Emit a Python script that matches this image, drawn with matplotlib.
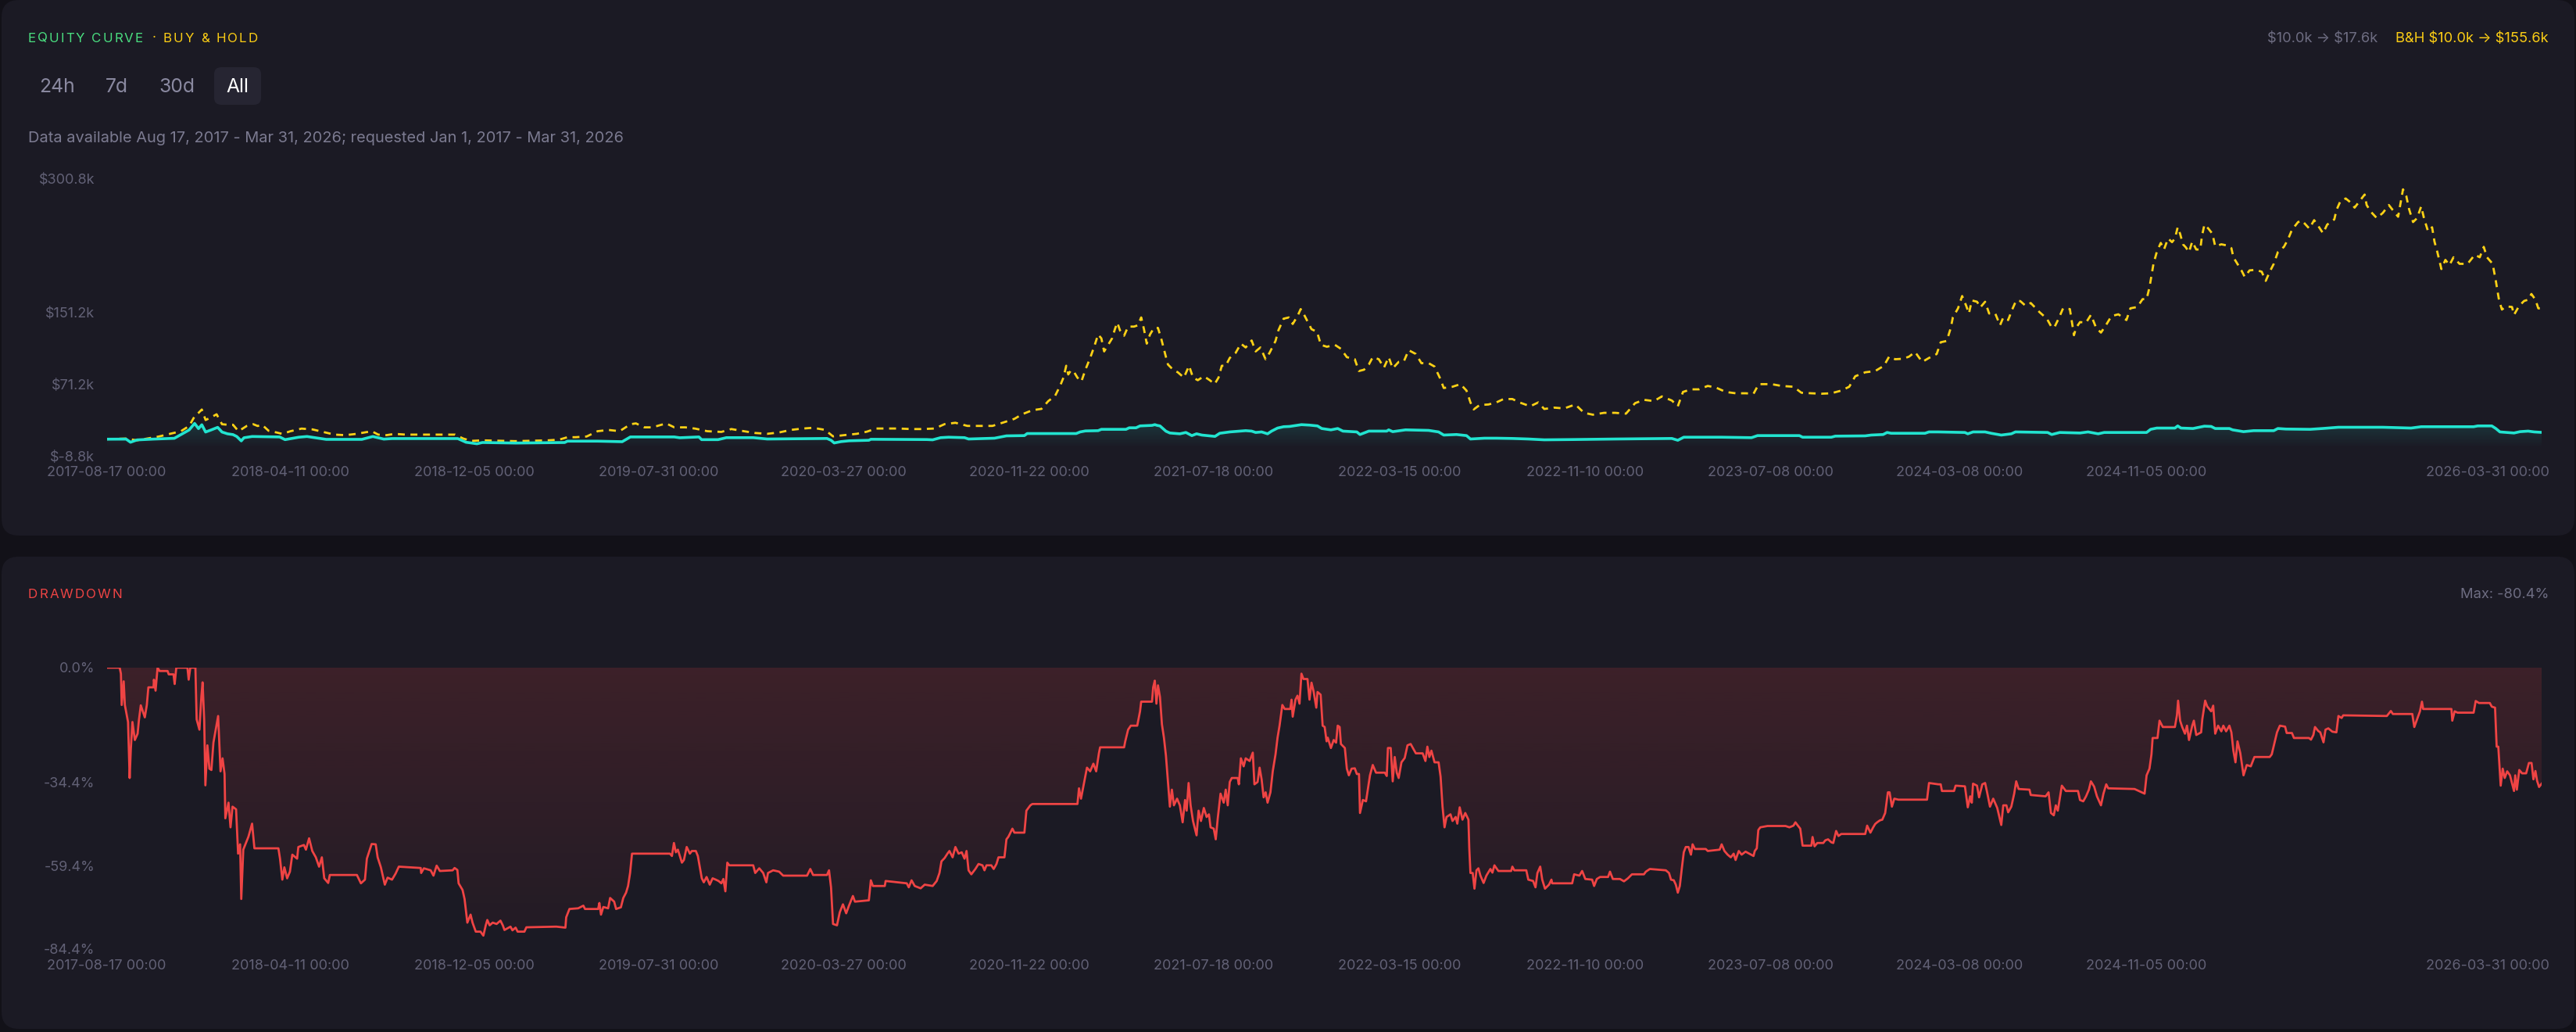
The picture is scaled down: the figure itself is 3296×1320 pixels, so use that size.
import numpy as np
import matplotlib
matplotlib.use('Agg')
import matplotlib.pyplot as plt
import matplotlib.dates as mdates
import matplotlib.colors as mcolors
from matplotlib.patches import FancyBboxPatch, PathPatch
from matplotlib.transforms import ScaledTranslation

# Colours
PAGE = '#121118'
CARD = '#1b1a24'
CYAN = '#22e4d0'
GOLD = '#fcd116'
RED = '#ef4444'
GREEN = '#4ade80'
MUTED = '#626176'
FONT = ['Inter', 'DejaVu Sans']

start_date = '2017-08-17'

# Data: (days since 2017-08-17, value)
# strategy equity in $k
equity_pts = [
    (0, 10.0), (25, 10.1), (30.7, 6.6), (39.2, 9.2), (60.4, 10.1), (87.4, 11.0), (95.9, 15.1),
    (106.5, 20.3), (113.6, 27.6), (118.6, 21.8), (122.9, 26.1), (127.8, 18.0), (134.9, 20.3),
    (143.4, 23.2), (149, 18.0), (156.1, 16.0), (163.2, 15.1), (168.1, 13.0), (173.9, 8.1),
    (177.4, 11.6), (188, 13.0), (223.5, 12.5), (230.5, 9.5), (248.2, 12.2), (258.9, 13.0),
    (269.6, 11.6), (283.7, 9.8), (329.8, 9.8), (344, 13.0), (358.2, 10.1), (368.8, 10.7),
    (453.8, 10.7), (464.4, 6.6), (478.6, 4.9), (485.7, 6.3), (528.3, 5.7), (592, 6.3),
    (595.5, 7.8), (634.6, 7.8), (666.4, 7.2), (677, 12.5), (733.7, 12.5), (740.9, 11.6),
    (765.6, 12.5), (769.1, 9.5), (790.3, 9.5), (801, 11.7), (835.8, 11.7), (853.9, 10.2),
    (931.2, 10.8), (936.4, 8.8), (940.5, 5.8), (949.2, 7.3), (959.6, 8.2), (985.3, 8.8),
    (987.9, 9.9), (1060.1, 9.6), (1067.8, 9.3), (1078.1, 11.7), (1088.4, 12.2), (1109, 11.7),
    (1114.2, 10.2), (1147.7, 11.1), (1163.2, 13.7), (1186.4, 14.0), (1190, 16.3), (1253.4, 16.3),
    (1258.5, 18.1), (1265.3, 19.2), (1281.7, 19.5), (1285.9, 21.0), (1317.8, 21.0), (1321.9, 22.7),
    (1330.7, 22.7), (1335.9, 24.8), (1351.4, 25.4), (1355, 26.2), (1358, 25.4), (1361.7, 24.8),
    (1369.4, 18.9), (1374.5, 16.9), (1387.4, 16.0), (1395.2, 17.5), (1402.9, 14.0), (1409, 16.0),
    (1415.8, 14.6), (1432.8, 13.1), (1439, 16.6), (1451.9, 18.1), (1464.8, 19.0), (1472.5, 19.5),
    (1480.2, 19.0), (1485.4, 17.5), (1493.1, 18.1), (1500.8, 16.0), (1506, 19.0), (1513.7, 22.4),
    (1521.5, 23.9), (1529.2, 24.2), (1544.6, 26.2), (1555, 25.7), (1565.3, 24.8), (1570.8, 21.9),
    (1582.7, 20.4), (1591.5, 21.9), (1598.2, 19.0), (1616.2, 18.1), (1620.3, 15.2), (1631.7, 19.0),
    (1654.9, 19.0), (1657.4, 20.4), (1662.6, 18.4), (1679.1, 20.4), (1709, 19.8), (1721.9, 18.1),
    (1728.6, 14.6), (1745.1, 15.2), (1758, 14.0), (1763.1, 10.2), (1781.2, 11.1), (1796.6, 11.1),
    (1817.3, 10.8), (1837.9, 10.2), (1858.5, 9.3), (1894.6, 9.6), (1951.3, 10.2), (2023.5, 10.8),
    (2031.2, 8.8), (2038.9, 12.2), (2087.9, 12.2), (2126.5, 11.7), (2134.3, 14.0), (2188.4, 14.0),
    (2192.5, 12.2), (2229.7, 12.2), (2234.8, 13.4), (2273.5, 13.7), (2281.2, 14.6), (2296.6, 15.2),
    (2301.8, 17.5), (2307, 16.6), (2350.8, 16.6), (2355.9, 18.1), (2367.8, 18.1), (2402.4, 17.5),
    (2406.1, 16.0), (2412.9, 18.1), (2428.5, 18.1), (2436.3, 16.6), (2449.4, 14.6), (2462.4, 16.0),
    (2467.7, 18.1), (2509.4, 17.5), (2514.6, 15.2), (2525.1, 17.5), (2551.2, 16.9), (2561.6, 18.1),
    (2574.7, 16.0), (2582.5, 17.5), (2637.3, 17.5), (2642.5, 21.0), (2650.4, 22.4), (2673.9, 22.4),
    (2677.5, 24.8), (2681.7, 22.4), (2697.3, 21.9), (2712, 24.5), (2720.8, 24.2), (2726, 21.9),
    (2744.3, 21.9), (2748.5, 20.4), (2762.6, 18.4), (2775.6, 19.5), (2801.7, 19.5), (2807, 21.9),
    (2817.4, 21.3), (2848.7, 21.0), (2864.4, 21.9), (2885.3, 23.3), (2942.7, 23.3), (2979.2, 22.4),
    (2987, 23.3), (2992.3, 23.9), (3060.1, 23.9), (3065.4, 24.8), (3083.6, 24.8), (3088.8, 21.9),
    (3094.1, 18.1), (3112.3, 16.9), (3120.2, 18.4), (3130.6, 19.0), (3138.4, 18.1), (3148, 17.6),
]

# buy & hold equity in $k
bh_pts = [
    (0, 10.0), (25, 10.7), (39, 8.7), (67.5, 13.0), (81.6, 15.9), (95.9, 18.9), (106.5, 24.7),
    (113.6, 35.5), (118.6, 39.3), (122.9, 43.1), (127.8, 31.4), (134.9, 34.3), (142, 37.8),
    (149, 26.7), (156.1, 26.1), (163.2, 26.1), (170.3, 18.9), (173.9, 20.9), (180.9, 24.7),
    (189.4, 26.7), (195.1, 24.7), (200.7, 26.1), (209.2, 19.4), (219.9, 17.4), (226.9, 15.9),
    (237.6, 18.9), (251.8, 21.8), (266, 20.9), (280.1, 18.0), (294.3, 15.1), (308.5, 14.5),
    (322.7, 15.9), (342.5, 18.9), (351, 15.1), (361.6, 14.5), (372.2, 15.9), (386.4, 15.1),
    (450.2, 15.1), (460.9, 10.7), (471.5, 8.1), (485.7, 8.7), (514.1, 8.1), (528.3, 7.8),
    (542.5, 8.1), (570.8, 8.7), (585, 9.5), (595.6, 12.2), (606.2, 12.2), (620.4, 13.0),
    (634.6, 18.9), (648.8, 20.3), (663, 18.9), (677.2, 26.7), (684.2, 27.6), (694.9, 23.2),
    (705.5, 23.2), (723.2, 27.6), (733.8, 23.2), (748, 23.2), (760.8, 21.8), (776.4, 18.9),
    (794.6, 18.1), (807.5, 21.3), (823, 19.0), (838.4, 16.9), (853.9, 16.0), (869.3, 17.5),
    (884.8, 20.4), (900.3, 21.9), (913.2, 22.7), (928.6, 20.4), (939, 13.1), (954.4, 14.6),
    (969.9, 16.0), (982.8, 18.4), (994.6, 21.9), (1024, 21.9), (1039.5, 21.3), (1054.9, 21.3),
    (1070.4, 21.9), (1083.3, 26.8), (1097.2, 28.3), (1112.7, 24.8), (1145.1, 24.8), (1159.1, 28.6),
    (1173.5, 32.7), (1183.8, 37.9), (1196.7, 42.3), (1208.5, 43.8), (1217.3, 52.5), (1226.1, 58.3),
    (1232.8, 70.0), (1236.9, 78.7), (1240.5, 91.9), (1243.1, 82.2), (1246.7, 86.9), (1250.8, 84.6),
    (1254.9, 78.7), (1260.1, 74.4), (1265.3, 87.5), (1271.4, 100.6), (1276.6, 113.1), (1281.7, 126.8),
    (1285.9, 122.5), (1289.5, 107.9), (1294.6, 115.2), (1299.8, 122.5), (1303.4, 132.7), (1306.5, 140.0),
    (1310.1, 131.2), (1315.3, 125.4), (1320.5, 135.6), (1328.2, 135.6), (1333.3, 137.1), (1337.4, 145.8),
    (1341, 132.7), (1344.6, 116.6), (1348.8, 126.8), (1353.9, 134.1), (1359.1, 134.1), (1363.2, 122.5),
    (1368.4, 105.0), (1372, 93.3), (1378.6, 87.5), (1384.8, 84.6), (1392.6, 78.7), (1399.3, 91.9),
    (1404.4, 78.7), (1410.6, 75.8), (1418.4, 80.2), (1426.1, 75.8), (1432.3, 71.4), (1437.4, 78.7),
    (1441.6, 91.9), (1446.7, 91.9), (1451.9, 100.6), (1459.6, 106.4), (1466.3, 116.6), (1472.5, 112.3),
    (1480.2, 120.1), (1485.4, 107.9), (1491.6, 112.3), (1498.2, 99.2), (1503.4, 106.4), (1511.1, 119.6),
    (1514.7, 131.2), (1521.5, 144.4), (1528.2, 145.8), (1533.3, 138.5), (1539.5, 147.3), (1543.6, 155.1),
    (1547.2, 150.2), (1552.4, 141.4), (1557.6, 132.7), (1564.7, 129.8), (1569.8, 115.2), (1577.5, 113.1),
    (1587.9, 115.2), (1595.6, 110.8), (1603.3, 101.5), (1613.6, 99.2), (1618.8, 86.0), (1625.5, 87.5),
    (1631.7, 93.3), (1636.8, 101.5), (1644.6, 99.2), (1651.3, 89.8), (1657.4, 101.5), (1662.6, 89.0),
    (1670.3, 96.2), (1677, 96.8), (1683.2, 109.3), (1692.5, 105.0), (1699.7, 94.8), (1709, 94.8),
    (1716.7, 91.0), (1723.4, 78.7), (1728.6, 67.1), (1739.9, 68.5), (1750.2, 71.4), (1758, 64.2),
    (1763.1, 51.0), (1767.3, 43.2), (1775, 48.1), (1786.3, 48.7), (1796.6, 51.0), (1805.9, 54.8),
    (1817.3, 54.8), (1826.5, 51.0), (1840.4, 46.7), (1850.8, 51.0), (1858.5, 43.7), (1871.4, 45.2),
    (1884.3, 44.3), (1898.7, 48.7), (1910, 39.4), (1921.4, 37.3), (1935.8, 39.4), (1950.2, 39.4),
    (1964.2, 38.5), (1976, 50.2), (1987.4, 53.9), (2000.4, 52.5), (2010.6, 57.7), (2023.5, 53.1),
    (2031.2, 46.7), (2037.9, 62.7), (2048.2, 65.6), (2058.5, 65.6), (2069.9, 69.4), (2080.2, 67.7),
    (2093.1, 62.7), (2105.9, 61.2), (2118.8, 61.2), (2129.1, 60.7), (2135.8, 71.4), (2152.3, 71.4),
    (2165.2, 69.4), (2180.7, 68.5), (2191, 61.8), (2203.9, 61.2), (2216.8, 60.7), (2229.7, 61.2),
    (2242.5, 64.2), (2252.8, 68.5), (2260.6, 80.2), (2273.5, 84.6), (2286.4, 86.0), (2297.7, 91.9),
    (2304.4, 102.1), (2312.2, 99.2), (2322.5, 99.7), (2330.2, 102.1), (2337.9, 107.3), (2347.2, 96.2),
    (2355.9, 100.6), (2365.9, 105.0), (2371.1, 118.1), (2378.9, 119.6), (2384.1, 134.1), (2386.8, 145.8),
    (2393.5, 156.0), (2398.8, 169.7), (2404, 158.9), (2407.6, 150.2), (2411.3, 164.8), (2418.1, 163.3),
    (2422.2, 156.9), (2428.5, 163.3), (2433.7, 150.2), (2441.6, 150.2), (2447.8, 137.1), (2452, 145.8),
    (2458.3, 142.9), (2463.5, 154.6), (2468.7, 164.8), (2474, 164.0), (2480.7, 158.9), (2487.5, 161.9),
    (2499, 151.6), (2508.4, 144.4), (2514.6, 134.7), (2518, 134.7), (2523.5, 144.4), (2529.3, 156.0),
    (2538.1, 155.1), (2543.4, 126.0), (2546, 134.1), (2551.2, 140.6), (2559, 140.0), (2565.3, 148.7),
    (2572.1, 134.1), (2578.3, 128.9), (2585.1, 137.7), (2591.9, 147.3), (2600.8, 149.3), (2611.2, 142.9),
    (2616.4, 156.0), (2625.3, 157.5), (2632.1, 166.2), (2637.3, 166.2), (2641, 179.3), (2643.6, 192.5),
    (2646.2, 205.6), (2650.4, 218.7), (2655.6, 228.9), (2659.8, 221.6), (2665, 233.9), (2670.2, 229.8),
    (2673.9, 233.9), (2677.5, 246.4), (2680.6, 239.1), (2684.3, 227.4), (2688, 224.0), (2692.1, 218.7),
    (2696.3, 230.4), (2701.5, 221.6), (2706.7, 221.6), (2708.8, 236.2), (2712, 249.3), (2717.2, 244.9),
    (2722.4, 239.1), (2726, 225.1), (2733.9, 227.4), (2741.7, 226.0), (2746.9, 223.1), (2749.5, 212.9),
    (2753.7, 207.0), (2759.9, 198.3), (2764.2, 191.0), (2770.4, 198.3), (2778.3, 198.9), (2786.1, 196.8),
    (2791.3, 186.6), (2796.5, 196.8), (2801.7, 205.6), (2807, 218.7), (2814.8, 224.5), (2820, 232.7),
    (2825.2, 243.5), (2833.1, 252.2), (2838.3, 253.7), (2847.7, 244.9), (2853.9, 254.3), (2859.2, 247.9),
    (2865.4, 239.7), (2870.7, 249.3), (2880, 255.2), (2882.7, 265.4), (2887.9, 275.6), (2894.7, 278.5),
    (2901, 274.1), (2906.2, 268.3), (2914, 277.0), (2919.2, 282.9), (2921.8, 271.2), (2927, 263.9),
    (2934.9, 256.6), (2942.7, 262.4), (2950.5, 271.2), (2955.7, 265.4), (2962.5, 258.1), (2968.8, 288.7),
    (2973, 281.4), (2976.6, 266.8), (2981.8, 252.2), (2987, 256.6), (2992.3, 269.7), (2995.9, 256.6),
    (3001.1, 242.0), (3006.4, 246.4), (3009.5, 230.4), (3013.2, 218.7), (3018.4, 199.8), (3023.6, 210.0),
    (3028.8, 204.1), (3034.1, 212.9), (3041.9, 205.6), (3052.3, 205.6), (3061.7, 215.8), (3068, 212.9),
    (3073.2, 224.5), (3077.4, 212.9), (3084.7, 205.6), (3088.8, 186.6), (3093, 164.8), (3096.7, 154.6),
    (3101.9, 158.1), (3109.7, 157.5), (3112.3, 148.7), (3119.1, 158.9), (3125.4, 164.2), (3130.6, 165.6),
    (3134.8, 172.0), (3140, 165.6), (3143.7, 156.0), (3148, 155.6),
]

# strategy drawdown in %
dd_pts = [
    (0, 0.0), (16.7, 0.0), (18.3, -1.8), (19.3, -11.2), (21.9, -4.1), (23.4, -11.2), (27.5, -16.3),
    (29.6, -33.1), (31.1, -24.5), (33.2, -16.3), (36.3, -21.7), (39.9, -19.8), (41.5, -15.9),
    (44, -11.3), (49.2, -14.9), (51.8, -11.2), (53.8, -5.9), (60.5, -5.9), (61, -3.6), (63.1, -6.9),
    (65.7, 0.0), (68.3, -1.0), (78.6, -1.0), (80.1, -2.0), (86.3, -2.0), (87.8, -4.9), (89.9, 0.0),
    (104.3, 0.0), (105.9, -3.6), (108, 0.0), (114.6, 0.0), (116.2, -15.5), (119.8, -18.6),
    (122.4, -8.4), (123.9, -4.4), (126, -15.9), (127.5, -35.3), (130.1, -23.3), (132.7, -30.3),
    (135.3, -30.7), (137.9, -22.5), (144, -14.5), (147.1, -31.1), (149.7, -27.2), (152.3, -31.9),
    (153.3, -45.2), (157.4, -40.5), (160, -47.9), (162.6, -41.7), (167.2, -42.5), (169.8, -55.8),
    (172.4, -53.0), (173.9, -69.4), (176.5, -54.6), (183.2, -50.7), (187.9, -46.8), (190.9, -54.2),
    (221.9, -54.2), (224, -57.3), (227, -63.6), (229.6, -59.9), (233.2, -63.2), (236.8, -61.2),
    (239.9, -56.1), (246.1, -57.3), (247.7, -53.8), (254.9, -53.2), (257.5, -54.6), (261.6, -51.2),
    (265.7, -55.0), (270.3, -56.9), (274.5, -59.7), (278.1, -56.9), (281.2, -63.2), (286.3, -64.6),
    (288.4, -62.2), (323.4, -62.2), (328.6, -64.7), (333.8, -63.6), (336.3, -57.3), (342.5, -52.9),
    (347.7, -53.0), (350.2, -56.9), (354.4, -59.9), (359.5, -65.1), (363.1, -63.0), (368.8, -63.6),
    (373.4, -61.8), (377.6, -59.7), (405.9, -60.1), (406.5, -61.6), (410, -60.2), (418.8, -60.8),
    (422.4, -62.4), (426.5, -59.4), (430.7, -61.0), (447.2, -60.8), (449.7, -60.1), (453.3, -60.7),
    (454.9, -64.7), (460, -66.7), (462.6, -69.4), (466.2, -76.5), (470.4, -74.1), (472.9, -76.5),
    (477.1, -79.2), (483.2, -79.2), (486.9, -80.4), (490, -77.3), (492, -75.7), (495, -77.3),
    (499, -76.5), (504, -76.9), (509, -75.9), (512, -77.3), (514.2, -78.7), (522, -77.7),
    (524.5, -78.8), (528.6, -78.0), (531.2, -79.2), (540, -79.2), (542.5, -77.9), (581.2, -77.7),
    (593, -78.0), (594, -74.9), (598.2, -72.4), (609.5, -72.2), (616.2, -71.4), (618.3, -72.4),
    (635.3, -72.4), (636.9, -70.6), (639, -74.1), (642, -71.8), (648.2, -72.2), (650.8, -69.1),
    (656, -70.2), (658.5, -72.4), (664.7, -71.9), (667.8, -69.1), (671.4, -67.5), (674, -65.5),
    (676.6, -61.6), (679.1, -55.8), (728.1, -55.8), (730.7, -56.5), (733.3, -52.6), (735.8, -55.4),
    (738.4, -54.6), (743.6, -58.5), (746.2, -57.7), (749.8, -53.8), (753.9, -55.8), (756.5, -55.0),
    (761.6, -55.0), (764.2, -56.5), (769.3, -63.2), (771.9, -64.4), (775.5, -62.8), (779.6, -65.1),
    (783.3, -63.2), (787.4, -63.6), (791, -64.0), (794.6, -64.7), (797.2, -63.4), (799.8, -67.1),
    (802.3, -58.5), (804.9, -59.3), (835.8, -59.3), (838.4, -61.6), (843.6, -60.2), (848.7, -61.6),
    (852.8, -64.4), (854.9, -61.6), (861.6, -60.8), (869.3, -61.2), (874.5, -62.4), (905.4, -62.4),
    (909.6, -60.4), (913.2, -62.2), (931.2, -62.2), (933.8, -60.8), (936.4, -65.9), (939, -76.9),
    (944.1, -77.3), (947.7, -73.4), (951.8, -71.0), (956, -73.7), (959.6, -71.4), (964.7, -68.5),
    (967.3, -70.2), (985.3, -69.8), (987.9, -63.8), (990.5, -65.5), (1005.9, -65.5), (1007, -64.0),
    (1034.3, -64.7), (1036.9, -65.9), (1040.5, -63.8), (1044.6, -65.5), (1052.3, -66.2), (1057.5, -65.1),
    (1067.8, -65.5), (1073, -64.0), (1076.6, -61.6), (1079.2, -58.1), (1083.3, -57.1), (1086.9, -55.8),
    (1089.5, -55.0), (1093.6, -56.9), (1097.2, -53.8), (1101.3, -55.8), (1105.4, -55.4), (1109, -57.3),
    (1111.6, -55.0), (1114.2, -60.8), (1117.8, -62.0), (1123, -60.4), (1127.1, -58.9), (1132.2, -59.3),
    (1134.8, -60.8), (1137.4, -59.3), (1143.6, -59.3), (1146.7, -60.4), (1150.3, -58.9), (1152.9, -56.9),
    (1160.6, -56.9), (1163.2, -51.5), (1165.8, -50.7), (1170.9, -48.3), (1173.5, -49.5), (1186.4, -49.5),
    (1189, -42.9), (1194.1, -41.3), (1196.7, -40.9), (1255, -40.9), (1257, -36.2), (1259.6, -39.3),
    (1263.7, -34.3), (1267.3, -30.0), (1271.4, -31.1), (1275.6, -28.8), (1279.2, -31.1), (1282.8, -25.6),
    (1284.3, -23.9), (1315.3, -23.9), (1316.8, -22.1), (1320.5, -18.6), (1324, -17.4), (1332.3, -17.4),
    (1335.9, -13.1), (1337.4, -10.2), (1351.4, -10.2), (1352.9, -5.9), (1355, -3.9), (1357.1, -10.8),
    (1359.1, -5.3), (1361.7, -8.8), (1364.2, -17.0), (1366.8, -21.0), (1369.4, -26.4), (1372, -34.3),
    (1374.5, -41.7), (1377.1, -36.6), (1379.7, -41.3), (1383.8, -39.3), (1387.4, -41.3), (1391, -46.4),
    (1394.1, -39.7), (1396.2, -42.9), (1398.7, -34.6), (1401.3, -41.3), (1404.4, -46.0), (1409, -50.3),
    (1411.6, -42.9), (1414.7, -46.0), (1418.4, -42.1), (1422, -44.8), (1425, -44.0), (1427.1, -47.9),
    (1431.2, -48.3), (1433.8, -51.5), (1436.4, -45.2), (1440, -37.8), (1444.1, -40.5), (1446.7, -36.6),
    (1449.3, -41.3), (1451.9, -34.3), (1454.5, -33.1), (1462.2, -33.1), (1463.7, -35.0), (1466.3, -27.2),
    (1469.9, -29.6), (1472.5, -27.2), (1477.6, -28.0), (1481.7, -25.5), (1483.8, -35.0), (1487.9, -34.3),
    (1490.5, -30.0), (1493.1, -33.5), (1495.7, -38.9), (1498.3, -37.4), (1500.8, -40.5), (1504.5, -37.4),
    (1507.5, -31.1), (1511.1, -26.0), (1513.7, -21.0), (1516.3, -17.4), (1519.9, -11.2), (1523, -12.4),
    (1530.2, -12.4), (1531.8, -9.6), (1533.3, -14.7), (1536.9, -9.6), (1539.5, -8.4), (1542.1, -10.8),
    (1544.6, -1.8), (1547.2, -3.4), (1552.4, -3.4), (1555, -9.6), (1557.6, -4.5), (1560.1, -6.9),
    (1563.8, -12.0), (1565.4, -7.3), (1569.4, -8.1), (1572, -17.4), (1574.6, -17.8), (1577.1, -22.1),
    (1578.6, -21.0), (1582.7, -24.1), (1586.3, -21.7), (1589.4, -22.5), (1591.5, -17.4), (1594, -17.8),
    (1595.6, -22.9), (1600.7, -24.1), (1603.3, -30.3), (1605.9, -32.3), (1609.5, -30.3), (1613.6, -30.2),
    (1616.2, -31.9), (1619, -31.9), (1620.3, -43.6), (1624, -39.7), (1628.1, -40.1), (1633.2, -32.3),
    (1636.8, -29.2), (1641, -31.5), (1652.3, -31.5), (1654.9, -32.5), (1656.4, -24.1), (1660, -24.1),
    (1662.6, -34.1), (1665.2, -26.8), (1667.8, -31.5), (1670.3, -33.1), (1673.9, -28.4), (1678.1, -27.1),
    (1681.7, -23.3), (1685.8, -22.9), (1692.5, -25.7), (1701.3, -25.7), (1704.9, -28.0), (1707.4, -23.7),
    (1710, -26.8), (1712.6, -24.9), (1716.7, -28.4), (1721.9, -28.4), (1724.5, -32.7), (1727, -41.7),
    (1729.6, -47.9), (1732.2, -44.8), (1737.3, -44.0), (1739.9, -46.0), (1744, -44.8), (1746.1, -46.8),
    (1749.2, -41.9), (1752.8, -45.6), (1756.4, -43.6), (1760.5, -45.6), (1761.6, -54.2), (1763.1, -61.6),
    (1766, -61.6), (1768.3, -66.3), (1770.9, -60.8), (1773.4, -60.2), (1776, -62.4), (1780.1, -64.6),
    (1783.7, -62.4), (1788.9, -60.4), (1791.5, -61.5), (1794.1, -59.3), (1799.2, -61.0), (1815.7, -61.0),
    (1817.3, -59.7), (1819.8, -60.8), (1835.3, -60.8), (1837.9, -63.6), (1844.1, -64.0), (1847.2, -65.9),
    (1849.7, -61.6), (1853.3, -59.7), (1855.9, -63.6), (1859.5, -66.3), (1864.7, -65.1), (1867.8, -63.6),
    (1868.8, -64.7), (1894.6, -64.7), (1897.2, -62.0), (1903.9, -62.4), (1907.5, -61.0), (1911.6, -63.4),
    (1920.4, -63.6), (1923, -65.5), (1926.5, -63.4), (1930.7, -62.8), (1941, -62.8), (1943.5, -61.2),
    (1947.2, -63.4), (1956.4, -63.4), (1961.6, -64.1), (1966.7, -63.2), (1971.9, -62.0), (1987.4, -62.0),
    (1989.9, -61.2), (1995.1, -60.4), (2015.7, -60.8), (2019.8, -61.6), (2022.4, -63.6), (2026, -63.8),
    (2028.6, -65.1), (2031.2, -67.5), (2033.8, -65.5), (2036.3, -60.4), (2038.9, -55.4), (2041.5, -53.8),
    (2045, -53.8), (2048.2, -56.1), (2050.3, -53.0), (2053.3, -54.4), (2067.3, -54.4), (2069.9, -55.0),
    (2085.3, -54.6), (2087.9, -53.0), (2091.5, -55.0), (2095.6, -56.1), (2099.7, -56.9), (2103.4, -55.8),
    (2105.9, -57.7), (2110, -55.0), (2113.7, -56.1), (2118.8, -55.2), (2129.1, -56.5), (2130.7, -55.0),
    (2133.3, -54.2), (2135.3, -48.7), (2137.9, -47.9), (2147.2, -47.5), (2170.4, -47.5), (2175.5, -47.9),
    (2180.7, -47.4), (2183.3, -46.4), (2185.8, -47.2), (2189.5, -48.3), (2192.5, -53.4), (2203.9, -53.4),
    (2205.4, -50.8), (2208, -53.6), (2211.6, -52.6), (2219.3, -52.6), (2221.9, -51.8), (2225.5, -51.5),
    (2229.7, -52.4), (2232.2, -52.6), (2235.9, -49.0), (2238.9, -50.5), (2242.5, -49.9), (2273.5, -49.9),
    (2276, -47.4), (2280.2, -49.5), (2283.8, -47.9), (2286.4, -46.9), (2288.9, -46.4), (2292.6, -45.8),
    (2295.6, -45.6), (2299.3, -43.6), (2300.8, -40.9), (2302.8, -37.4), (2305, -37.4), (2308, -41.7),
    (2311.1, -39.3), (2316.3, -39.6), (2353.4, -39.6), (2356, -34.6), (2368, -35.0), (2371.1, -35.0),
    (2372.7, -37.0), (2388.3, -37.0), (2390.4, -35.4), (2402.4, -35.6), (2406.1, -41.9), (2409.2, -38.6),
    (2411.3, -40.5), (2412.9, -34.8), (2418, -35.4), (2420.7, -38.9), (2424.9, -35.0), (2428.5, -34.6),
    (2431.1, -37.4), (2434.8, -41.7), (2439, -39.3), (2444.2, -42.1), (2449.4, -47.2), (2452, -41.3),
    (2456, -41.3), (2458.3, -43.4), (2462.4, -41.7), (2466.1, -37.8), (2468.7, -34.1), (2471.8, -36.4),
    (2485.9, -36.6), (2487.5, -38.2), (2506.8, -38.6), (2510.5, -37.4), (2513.6, -43.6), (2517.3, -44.3),
    (2519.9, -41.3), (2522.5, -42.9), (2527.7, -35.4), (2532.9, -37.0), (2548.6, -37.0), (2551.2, -39.7),
    (2555.4, -40.1), (2559, -38.6), (2562.7, -36.6), (2565.3, -34.1), (2569.5, -35.7), (2573.1, -38.6),
    (2578.3, -41.3), (2581.5, -37.8), (2585.1, -35.0), (2587.7, -36.2), (2621.7, -36.4), (2634.7, -37.8),
    (2637.3, -32.3), (2641, -30.3), (2643.6, -26.0), (2645.1, -21.1), (2651.4, -21.1), (2654, -15.9),
    (2658.2, -17.8), (2673.9, -17.8), (2676.5, -14.3), (2678, -9.9), (2680.6, -15.9), (2683.3, -17.8),
    (2686.9, -19.8), (2689.5, -17.4), (2692.1, -21.7), (2696.3, -17.4), (2698.4, -15.9), (2701.5, -20.2),
    (2707.8, -19.4), (2709.3, -15.5), (2713, -9.9), (2715.6, -11.6), (2720.8, -13.1), (2723.4, -11.4),
    (2726, -19.8), (2729.7, -17.4), (2733.9, -19.1), (2736.5, -17.4), (2740.1, -19.1), (2744.3, -17.4),
    (2746.9, -19.4), (2749.5, -24.9), (2752.2, -28.4), (2754.8, -22.1), (2758.4, -25.6), (2762.6, -32.3),
    (2766.8, -29.2), (2772, -29.6), (2776.7, -26.8), (2796.5, -26.8), (2799.1, -26.0), (2805.9, -19.4),
    (2809.6, -17.4), (2816.4, -17.7), (2818.4, -19.6), (2825.2, -19.6), (2827.8, -21.1), (2847.2, -21.1),
    (2849.8, -21.6), (2852.9, -20.2), (2855, -17.8), (2859.2, -19.0), (2861.8, -19.4), (2866, -22.4),
    (2868.6, -18.6), (2872.2, -18.2), (2877.4, -19.2), (2882.7, -19.4), (2885.3, -14.5), (2889.4, -15.1),
    (2891.5, -14.3), (2947.9, -14.5), (2953.1, -13.0), (2955.7, -13.9), (2980.8, -13.9), (2983.4, -17.8),
    (2987, -15.5), (2990.7, -13.1), (2993.3, -10.2), (2994.9, -12.4), (3031.4, -12.4), (3032.5, -15.9),
    (3035.6, -13.1), (3039.3, -13.5), (3060.1, -13.5), (3062.8, -10.0), (3067, -10.6), (3081, -10.6),
    (3083.6, -11.7), (3087.8, -12.0), (3089.9, -23.7), (3092, -23.7), (3095.1, -35.4), (3097.7, -30.3),
    (3100.3, -33.1), (3103.5, -31.1), (3107.1, -32.3), (3112.3, -37.0), (3113.9, -32.3), (3116, -36.6),
    (3119.1, -30.7), (3122.8, -31.7), (3128, -31.7), (3131.6, -28.6), (3135, -28.6), (3137.4, -33.5),
    (3140, -31.0), (3142.1, -33.9), (3144.7, -35.8), (3148, -34.8),
]

x_tick_dates = ['2017-08-17', '2018-04-11', '2018-12-05', '2019-07-31', '2020-03-27',
                '2020-11-22', '2021-07-18', '2022-03-15', '2022-11-10', '2023-07-08',
                '2024-03-08', '2024-11-05', '2026-03-31']
eq_ticks = [-8.8, 71.2, 151.2, 300.8]
eq_tick_labels = ['$-8.8k', '$71.2k', '$151.2k', '$300.8k']
dd_ticks = [0.0, -34.4, -59.4, -84.4]
dd_tick_labels = ['0.0%', '-34.4%', '-59.4%', '-84.4%']
ranges = ['24h', '7d', '30d', 'All']

# convert day offsets to matplotlib dates
t0 = mdates.date2num(np.datetime64(start_date))
eq = np.array(equity_pts)
bh = np.array(bh_pts)
dd = np.array(dd_pts)
eq_x, eq_y = t0 + eq[:, 0], eq[:, 1]
bh_x, bh_y = t0 + bh[:, 0], bh[:, 1]
dd_x, dd_y = t0 + dd[:, 0], dd[:, 1]
tick_x = mdates.date2num(np.array(x_tick_dates, dtype='datetime64[D]'))
tick_labels = [d + ' 00:00' for d in x_tick_dates]

W, H = 3296, 1320
fig = plt.figure(figsize=(W / 200, H / 200), dpi=200, facecolor=PAGE)

# background layer in pixel coordinates for the cards and header texts
bg = fig.add_axes([0, 0, 1, 1], zorder=0)
bg.set_xlim(0, W)
bg.set_ylim(H, 0)
bg.axis('off')
for (y0, y1) in [(0, 685), (712, 1316)]:
    bg.add_patch(FancyBboxPatch((2, y0), 3292, y1 - y0, boxstyle='round,pad=0,rounding_size=22',
                                facecolor=CARD, edgecolor='none'))


def spaced_text(x, y, s, color, size, gap):
    # letter-spaced caps label, drawn one character at a time
    r = fig.canvas.get_renderer()
    for ch in s:
        if ch == ' ':
            x += size * 200 / 72 * 0.28 + gap
            continue
        t = bg.text(x, y, ch, color=color, fontsize=size, family=FONT, va='baseline', ha='left')
        x += t.get_window_extent(renderer=r).width + gap
    return x


spaced_text(36, 53.5, 'EQUITY CURVE', GREEN, 6.1, 2.0)
spaced_text(195, 53.5, '· BUY & HOLD', '#facc15', 6.1, 2.0)
spaced_text(36, 765, 'DRAWDOWN', RED, 6.1, 2.0)

# range buttons
bg.add_patch(FancyBboxPatch((274, 86), 60, 48, boxstyle='round,pad=0,rounding_size=9',
                            facecolor='#262532', edgecolor='none'))
for label, cx in zip(ranges, [73.5, 149, 226.5, 303.5]):
    bg.text(cx, 118, label, color='#ffffff' if label == 'All' else '#8a89a0', fontsize=8.9,
            family=FONT, ha='center', va='baseline')

bg.text(36, 181.5, 'Data available Aug 17, 2017 - Mar 31, 2026; requested Jan 1, 2017 - Mar 31, 2026',
        color='#7b7a90', fontsize=7.2, family=FONT, ha='left', va='baseline')

bg.text(3261, 54.5, 'B&H \\$10.0k \u2192 \\$155.6k', color='#facc15', fontsize=6.6, family=FONT,
        ha='right', va='baseline')
bg.text(3042, 54.5, '\\$10.0k \u2192 \\$17.6k', color='#6e6d82', fontsize=6.6, family=FONT,
        ha='right', va='baseline')
bg.text(3261, 765, 'Max: -80.4%', color='#6e6d82', fontsize=6.6, family=FONT,
        ha='right', va='baseline')


def gradient_fill(ax, x, y, base, color, a_lo, a_hi, y_lo, y_hi):
    poly = ax.fill_between(x, y, base, facecolor='none', edgecolor='none', linewidth=0)
    clip = PathPatch(poly.get_paths()[0], transform=ax.transData, facecolor='none', edgecolor='none')
    ax.add_patch(clip)
    img = np.zeros((256, 1, 4))
    img[:, :, :3] = mcolors.to_rgb(color)
    img[:, 0, 3] = np.linspace(a_lo, a_hi, 256)
    im = ax.imshow(img, aspect='auto', origin='lower', extent=[x[0], x[-1], y_lo, y_hi],
                   interpolation='bilinear', zorder=1)
    im.set_clip_path(clip)


def style_axis(ax, yticks, ylabels):
    ax.set_facecolor('none')
    for s in ax.spines.values():
        s.set_visible(False)
    ax.set_yticks(yticks)
    ax.set_yticklabels(ylabels)
    ax.set_xticks(tick_x)
    ax.set_xticklabels(tick_labels)
    ax.tick_params(length=0, labelsize=6.5, labelcolor=MUTED)
    ax.tick_params(axis='y', pad=5.6)
    ax.tick_params(axis='x', pad=4.6)
    for lab in ax.get_xticklabels() + ax.get_yticklabels():
        lab.set_family(FONT)
    last = ax.get_xticklabels()[-1]
    last.set_horizontalalignment('right')
    last.set_transform(last.get_transform() + ScaledTranslation(10 / 200, 0, fig.dpi_scale_trans))


left = 136.6 / W
width = (3252 - 136.6) / W

# equity panel
ax1 = fig.add_axes([left, 1 - 583.3 / H, width, (583.3 - 228.3) / H], zorder=2)
gradient_fill(ax1, eq_x, eq_y, 0, CYAN, 0.0, 0.14, 0, 27)
ax1.plot(bh_x, bh_y, color=GOLD, lw=1.0, dashes=(3.2, 2.6), zorder=3)
ax1.plot(eq_x, eq_y, color=CYAN, lw=1.3, zorder=4, solid_joinstyle='round')
ax1.set_xlim(t0, t0 + 3148)
ax1.set_ylim(-8.8, 300.8)
style_axis(ax1, eq_ticks, eq_tick_labels)

# drawdown panel
ax2 = fig.add_axes([left, 1 - 1213.8 / H, width, (1213.8 - 854) / H], zorder=2)
gradient_fill(ax2, dd_x, dd_y, 0, RED, 0.03, 0.16, -84.4, 0)
ax2.plot(dd_x, dd_y, color=RED, lw=1.0, zorder=4)
ax2.set_xlim(t0, t0 + 3148)
ax2.set_ylim(-84.4, 0)
style_axis(ax2, dd_ticks, dd_tick_labels)

fig.savefig('out.png', dpi=200, facecolor=PAGE)
